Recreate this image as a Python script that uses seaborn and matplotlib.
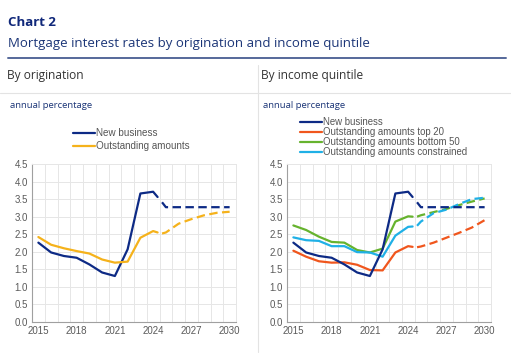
import matplotlib
matplotlib.use("Agg")
import matplotlib.pyplot as plt
import seaborn as sns
from matplotlib.lines import Line2D

# Data
years_hist = [2015, 2016, 2017, 2018, 2019, 2020, 2021, 2022, 2023, 2024, 2024.35]
years_proj = [2024.7, 2025, 2026, 2027, 2028, 2029, 2030]

new_business_hist = [2.26, 1.98, 1.88, 1.83, 1.64, 1.41, 1.31, 2.07, 3.66, 3.71, 3.56]
new_business_proj = [3.41, 3.27, 3.27, 3.27, 3.27, 3.27, 3.27]

outstanding_hist = [2.42, 2.20, 2.10, 2.02, 1.95, 1.78, 1.69, 1.72, 2.40, 2.59, 2.55]
outstanding_proj = [2.52, 2.55, 2.80, 2.93, 3.04, 3.11, 3.14]

top20_hist = [2.03, 1.86, 1.73, 1.69, 1.70, 1.63, 1.48, 1.47, 1.98, 2.16, 2.14]
top20_proj = [2.13, 2.15, 2.26, 2.40, 2.54, 2.69, 2.90]

bottom50_hist = [2.75, 2.62, 2.43, 2.28, 2.26, 2.05, 1.98, 2.09, 2.86, 3.01, 3.00]
bottom50_proj = [3.00, 3.04, 3.13, 3.22, 3.33, 3.43, 3.52]

constrained_hist = [2.41, 2.33, 2.31, 2.16, 2.16, 1.99, 1.98, 1.86, 2.46, 2.71, 2.72]
constrained_proj = [2.74, 2.86, 3.10, 3.20, 3.36, 3.50, 3.54]

year_ticks = [2015, 2018, 2021, 2024, 2027, 2030]
y_ticks = [0.0, 0.5, 1.0, 1.5, 2.0, 2.5, 3.0, 3.5, 4.0, 4.5]

NAVY = "#0d2a85"
YELLOW = "#f5b21b"
ORANGE = "#f0561d"
GREEN = "#66b32e"
CYAN = "#1fb0e6"

sns.set_style("white")
plt.rcParams["font.family"] = ["Liberation Sans", "DejaVu Sans"]

W, H = 511, 364
fig = plt.figure(figsize=(W / 100, H / 100), dpi=100)


def fx(px):
    return px / W


def fy(py):
    return 1 - py / H


# header
fig.text(fx(8), fy(22), "Chart 2", fontsize=9.5, fontweight="bold", color="#10287a",
         family="Open Sans", va="center", ha="left")
fig.text(fx(8), fy(43), "Mortgage interest rates by origination and income quintile",
         fontsize=9.55, color="#1b3577", family="Open Sans", va="center", ha="left")
fig.add_artist(Line2D([fx(8), fx(506)], [fy(57.5), fy(57.5)], color="#55689a", lw=1.4,
                      transform=fig.transFigure))
fig.add_artist(Line2D([fx(0), fx(511)], [fy(93), fy(93)], color="#e3e3e3", lw=0.8,
                      transform=fig.transFigure))
fig.add_artist(Line2D([fx(257.5), fx(257.5)], [fy(65), fy(352)], color="#e3e3e3", lw=0.8,
                      transform=fig.transFigure))
fig.text(fx(7), fy(75), "By origination", fontsize=8.6, color="#333333",
         family="Open Sans", va="center", ha="left")
fig.text(fx(261), fy(75), "By income quintile", fontsize=8.6, color="#333333",
         family="Open Sans", va="center", ha="left")
fig.text(fx(10), fy(105), "annual percentage", fontsize=6.8, color="#1b3577",
         family="Open Sans", va="center", ha="left")
fig.text(fx(263), fy(105), "annual percentage", fontsize=6.8, color="#1b3577",
         family="Open Sans", va="center", ha="left")

ax1 = fig.add_axes([fx(32), fy(322), fx(204), 158 / H])
ax2 = fig.add_axes([fx(287), fy(322), fx(204), 158 / H])

dash = (0, (3.8, 2.0))


def draw(ax, hist, proj, color, label):
    sns.lineplot(x=years_hist, y=hist, ax=ax, color=color, lw=1.6, label=label)
    sns.lineplot(x=years_proj, y=proj, ax=ax, color=color, lw=1.6, linestyle=dash, legend=False)


# left panel
draw(ax1, new_business_hist, new_business_proj, NAVY, "New business")
draw(ax1, outstanding_hist, outstanding_proj, YELLOW, "Outstanding amounts")

# right panel (draw order so navy sits on top)
draw(ax2, top20_hist, top20_proj, ORANGE, "Outstanding amounts top 20")
draw(ax2, bottom50_hist, bottom50_proj, GREEN, "Outstanding amounts bottom 50")
draw(ax2, constrained_hist, constrained_proj, CYAN, "Outstanding amounts constrained")
draw(ax2, new_business_hist, new_business_proj, NAVY, "New business")

for ax in (ax1, ax2):
    ax.set_xlim(2014.5, 2030.5)
    ax.set_ylim(0, 4.5)
    ax.set_xticks(year_ticks)
    ax.set_xticks([y + 0.5 for y in range(2014, 2030)], minor=True)
    ax.set_yticks(y_ticks)
    ax.set_yticklabels([f"{v:.1f}" for v in y_ticks])
    ax.grid(False)
    ax.grid(True, which="minor", axis="x", color="#e6e6e6", lw=0.7)
    ax.grid(True, which="major", axis="y", color="#e6e6e6", lw=0.7)
    ax.tick_params(which="both", length=0, labelsize=7, labelcolor="#5a5a5a", pad=3)
    ax.set_xlabel("")
    ax.set_ylabel("")
    for side in ("top", "right"):
        ax.spines[side].set_color("#e6e6e6")
        ax.spines[side].set_linewidth(0.7)
    for side in ("left", "bottom"):
        ax.spines[side].set_color("#a0a0a0")
        ax.spines[side].set_linewidth(0.8)
    ax.set_axisbelow(True)

# legends
h1, l1 = ax1.get_legend_handles_labels()
ax1.legend(h1, l1, loc="upper left", bbox_to_anchor=(fx(73), fy(128)),
           bbox_transform=fig.transFigure, frameon=False, fontsize=7.1,
           handlelength=2.2, handletextpad=0.1, labelspacing=0.35, borderpad=0,
           borderaxespad=0, labelcolor="#555555")

h2, l2 = ax2.get_legend_handles_labels()
order = [3, 0, 1, 2]
ax2.legend([h2[i] for i in order], [l2[i] for i in order], loc="upper left",
           bbox_to_anchor=(fx(300), fy(117)), bbox_transform=fig.transFigure,
           frameon=False, fontsize=6.9, handlelength=2.25, handletextpad=0.1,
           labelspacing=0.0, borderpad=0, borderaxespad=0, labelcolor="#555555")

fig.savefig("out.png", dpi=100)
